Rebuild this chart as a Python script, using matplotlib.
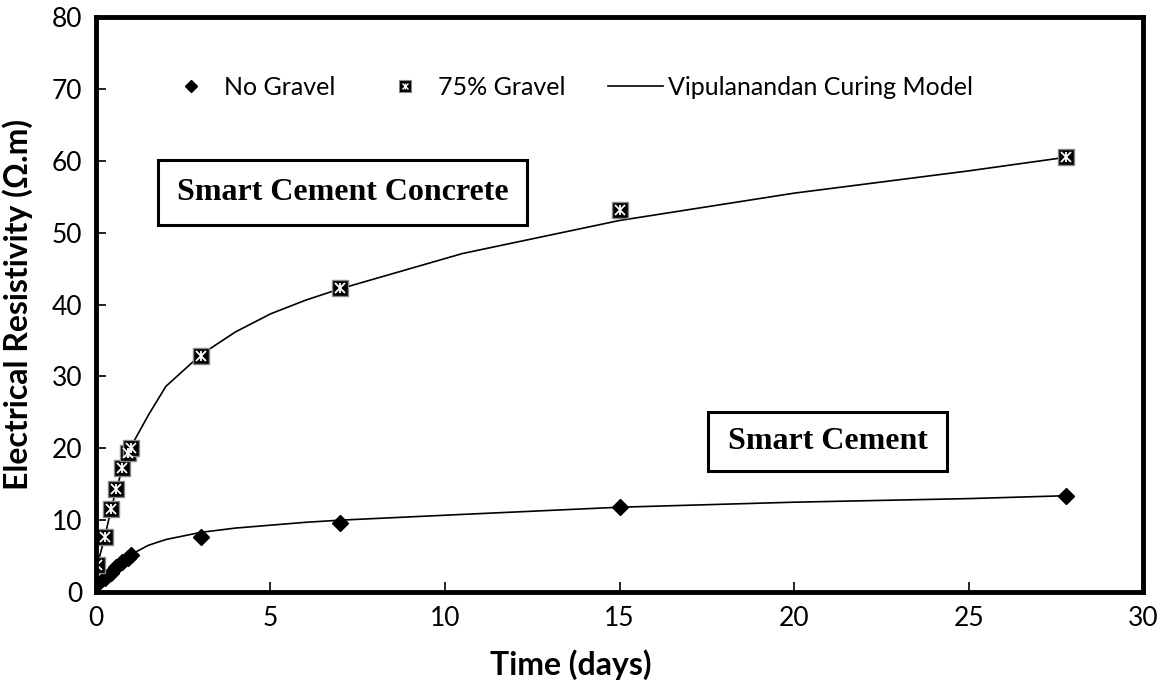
import numpy as np
import matplotlib.pyplot as plt
from matplotlib.patches import Rectangle

# -------------------------------
# DATA
# -------------------------------
t_no_gravel = [0.01, 0.04, 0.25, 0.42, 0.58, 0.75, 0.92, 1.0, 3.0, 7.0, 15.0, 27.8]
rho_no_gravel = [1.0, 1.2, 2.0, 2.7, 3.5, 4.2, 4.8, 5.2, 7.6, 9.6, 11.8, 13.4]

t_gravel = [0.04, 0.25, 0.42, 0.58, 0.75, 0.92, 1.0, 3.0, 7.0, 15.0, 27.8]
rho_gravel = [3.75, 7.6, 11.5, 14.3, 17.3, 19.3, 20.1, 32.8, 42.3, 53.1, 60.6]

t_model = [0, 0.04, 0.25, 0.42, 0.58, 0.75, 0.92, 1, 1.5, 2, 3, 4, 5, 6, 7, 10.5, 15, 20, 25, 27.8]
model_no_gravel = [0.8, 1.0, 2.0, 2.7, 3.4, 4.1, 4.8, 5.2, 6.5, 7.3, 8.3, 8.9, 9.3, 9.7, 10.0,
                   10.8, 11.8, 12.5, 13.0, 13.4]
model_gravel = [3.2, 3.8, 7.6, 11.2, 14.3, 17.0, 19.3, 20.2, 24.6, 28.6, 33.0, 36.2, 38.7, 40.6,
                42.2, 47.1, 51.7, 55.5, 58.6, 60.5]

plt.rcParams['font.family'] = ['Lato', 'DejaVu Sans']

# -------------------------------
# FIGURE
# -------------------------------
fig = plt.figure(figsize=(11.63, 6.83), dpi=100)
ax = fig.add_axes([0.0825, 0.1332, 0.9005, 0.8418])

line, = ax.plot(t_model, model_gravel, color='black', lw=1.2)
ax.plot(t_model, model_no_gravel, color='black', lw=1.2)

dia, = ax.plot(t_no_gravel, rho_no_gravel, 'D', color='black', ms=8, ls='none')

# boxed cross marker for 75% gravel
sq, = ax.plot(t_gravel, rho_gravel, 's', mfc='black', mec='#888888', mew=1.0, ms=11, ls='none')
cx, = ax.plot(t_gravel, rho_gravel, 'x', color='white', mew=1.3, ms=7.5, ls='none')
cv, = ax.plot(t_gravel, rho_gravel, '|', color='white', mew=1.3, ms=7.5, ls='none')

ax.set_xlim(0, 30)
ax.set_ylim(0, 80)
ax.set_xticks(np.arange(0, 31, 5))
ax.set_yticks(np.arange(0, 81, 10))
ax.tick_params(direction='in', length=7, width=1.2, labelsize=19, pad=10)
for s in ax.spines.values():
    s.set_linewidth(3.5)

ax.set_xlabel('Time (days)', fontsize=23, fontweight='bold')
ax.set_ylabel('Electrical Resistivity (Ω.m)', fontsize=23, fontweight='bold')
ax.xaxis.set_label_coords(0.453, -0.1)
ax.yaxis.set_label_coords(-0.06, 0.5)

# legend (smaller marker copies for handles)
h_dia, = ax.plot([], [], 'D', color='black', ms=6)
h_sq, = ax.plot([], [], 's', mfc='black', mec='#888888', mew=0.8, ms=8)
h_cx, = ax.plot([], [], 'x', color='white', mew=1.0, ms=5)
h_cv, = ax.plot([], [], '|', color='white', mew=1.0, ms=5)
ax.legend([h_dia, (h_sq, h_cx, h_cv), line],
          ['No Gravel', '75% Gravel', 'Vipulanandan Curing Model'],
          loc='center', bbox_to_anchor=(0.451, 0.878), ncol=3, frameon=False,
          fontsize=18, handlelength=2.2, handletextpad=0.22, columnspacing=1.7)

# text boxes
def boxed(x0, y0, x1, y1, label):
    ax.add_patch(Rectangle((x0, y0), x1 - x0, y1 - y0, transform=ax.transAxes,
                           fill=False, ec='black', lw=2.2, zorder=5))
    ax.text((x0 + x1) / 2, (y0 + y1) / 2, label, transform=ax.transAxes,
            ha='center', va='center', fontsize=23, fontweight='bold',
            family='Liberation Serif', zorder=6)

boxed((158 - 96) / 1047, (592 - 225) / 575, (527 - 96) / 1047, (592 - 160) / 575,
      'Smart Cement Concrete')
boxed((708 - 96) / 1047, (592 - 471) / 575, (947 - 96) / 1047, (592 - 412) / 575,
      'Smart Cement')

fig.savefig('out.png', dpi=100)
